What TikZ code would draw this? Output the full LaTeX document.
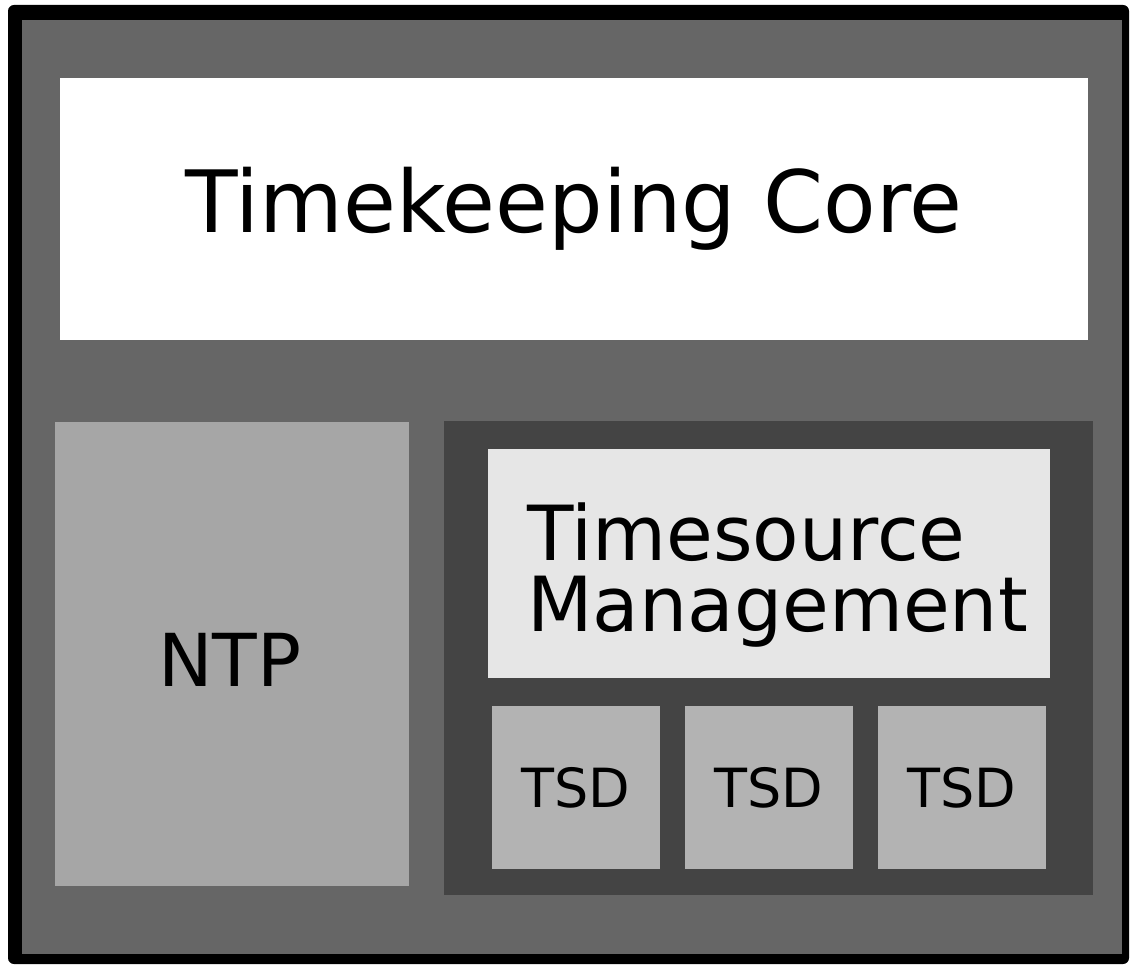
\documentclass[tikz,border=0pt]{standalone}
\usepackage{fontspec}
\setmainfont{DejaVu Sans}
\begin{document}
\begin{tikzpicture}[x=1pt, y=-1pt,
		box/.style={rectangle, inner sep=0pt, outer sep=0pt, align=center},
		tsd/.style={box, fill=tsdgray, minimum width=168pt, minimum height=163pt, font=\fontsize{54}{60}\selectfont}]
		\definecolor{framegray}{HTML}{666666}
		\definecolor{tsmgray}{HTML}{444444}
		\definecolor{ntpgray}{HTML}{A6A6A6}
		\definecolor{tsdgray}{HTML}{B3B3B3}
		\definecolor{mgmtgray}{HTML}{E6E6E6}
		\useasboundingbox (0,0) rectangle (1130,965);
		
		% frame
		\fill[black, rounded corners=6pt] (8,5) rectangle (1129,964);
		\fill[framegray] (22,20) rectangle (1122,954);
		
		% core
		\node[box, fill=white, minimum width=1028pt, minimum height=262pt, font=\fontsize{86}{94}\selectfont] (core) at (574,209) {Timekeeping Core};
		
		% NTP
		\node[box, fill=ntpgray, draw=black!60, line width=1pt, minimum width=355pt, minimum height=465pt] (ntp) at (232,654) {};
		\node[inner sep=0pt, font=\fontsize{73}{80}\selectfont] (ntplabel) at (230,660) {NTP};
		
		% timesource group
		\node[box, fill=tsmgray, minimum width=649pt, minimum height=474pt] (tsm) at (768.5,658) {};
		\node[box, fill=mgmtgray, minimum width=562pt, minimum height=229pt] (mgmt) at (769,563.5) {};
		\node[anchor=west, align=left, inner sep=0pt, font=\fontsize{76}{71}\selectfont] (mgmtlabel) at (527,575.5) {Timesource\\Management};
		
		\node[tsd] (tsda) at (576,787.5) {TSD};
		\node[tsd] (tsdb) at (768.5,787.5) {TSD};
		\node[tsd] (tsdc) at (962,787.5) {TSD};
	\end{tikzpicture}
\end{document}
